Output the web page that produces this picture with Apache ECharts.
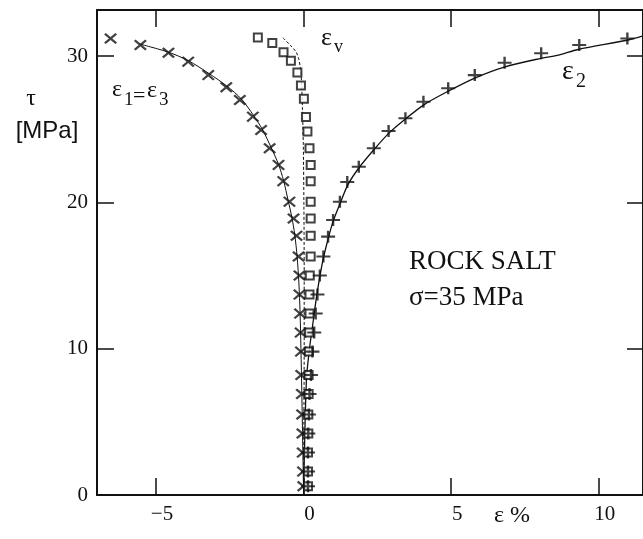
<!DOCTYPE html>
<html>
<head>
<meta charset="utf-8">
<script src="https://cdn.jsdelivr.net/npm/echarts@6/dist/echarts.min.js"></script>
<style>
html,body{margin:0;padding:0;background:#fff;}
#chart{width:643px;height:539px;}
</style>
</head>
<body>
<div id="chart"></div>
<script>
// ---- data ----
const xTickValues = [-5, 0, 5, 10];
const yTickValues = [0, 10, 20, 30];

// ε1 = ε3 (× markers): [strain %, τ MPa]
const eps13Points = [
  [-6.54,31.2],[-5.53,30.76],[-4.58,30.23],[-3.91,29.62],[-3.23,28.7],[-2.62,27.87],
  [-2.16,27.0],[-1.72,25.86],[-1.44,24.95],[-1.15,23.7],[-0.85,22.56],[-0.69,21.45],
  [-0.48,20.05],[-0.34,18.9],[-0.24,17.72],[-0.17,16.3],[-0.14,15.0],[-0.14,13.7],
  [-0.12,12.4],[-0.1,11.1],[-0.09,9.8],[-0.08,8.2],[-0.06,6.9],[-0.05,5.5],
  [-0.04,4.2],[-0.03,2.9],[-0.02,1.6],[-0.01,0.6]
];
// εv (□ markers)
const epsVPoints = [
  [-1.55,31.27],[-1.06,30.9],[-0.68,30.27],[-0.43,29.68],[-0.21,28.88],[-0.09,27.99],
  [0.01,27.08],[0.08,25.84],[0.13,24.84],[0.2,23.7],[0.24,22.56],[0.24,21.45],
  [0.24,20.05],[0.24,18.9],[0.24,17.72],[0.24,16.3],[0.21,15.0],[0.2,13.7],
  [0.2,12.4],[0.19,11.1],[0.18,9.8],[0.17,8.2],[0.17,6.9],[0.16,5.5],
  [0.16,4.2],[0.15,2.9],[0.15,1.6],[0.15,0.6]
];
// ε2 (+ markers)
const eps2Points = [
  [10.97,31.2],[9.34,30.76],[8.05,30.19],[6.81,29.55],[5.8,28.7],[4.9,27.8],
  [4.06,26.88],[3.45,25.75],[2.88,24.88],[2.38,23.7],[1.87,22.44],[1.48,21.4],
  [1.23,20.05],[1.0,18.8],[0.83,17.66],[0.67,16.3],[0.55,15.0],[0.47,13.7],
  [0.41,12.4],[0.36,11.1],[0.3,9.8],[0.25,8.2],[0.2,6.9],[0.18,5.5],
  [0.16,4.2],[0.15,2.9],[0.15,1.6],[0.15,0.6]
];
// fitted curves
const eps13Curve = [
  [-5.55,30.82],[-4.6,30.28],[-3.9,29.68],[-3.2,28.8],[-2.6,27.95],[-2.1,27.05],
  [-1.7,25.95],[-1.4,25.0],[-1.1,23.75],[-0.85,22.6],[-0.68,21.5],[-0.52,20.1],
  [-0.4,19.0],[-0.3,17.8],[-0.22,16.3],[-0.16,14.5],[-0.12,12.5],[-0.09,10],
  [-0.06,7],[-0.03,3.5],[0,0]
];
const epsVCurve = [
  [-0.7,31.25],[-0.43,30.7],[-0.26,30.3],[-0.17,29.85],[-0.11,29.2],[-0.07,28.25],
  [-0.04,26.5],[-0.01,24],[0.01,20],[0.02,15],[0.02,10],[0.01,5],[0,0]
];
const eps2Curve = [
  [0,0],[0.04,4],[0.1,8],[0.2,10],[0.3,11.5],[0.45,13.7],[0.65,16.0],[0.83,17.5],
  [1.0,18.7],[1.23,19.9],[1.5,21.2],[1.87,22.35],[2.38,23.6],[2.9,24.75],[3.45,25.7],
  [4.1,26.7],[4.9,27.6],[5.8,28.5],[6.8,29.25],[8.05,29.85],[8.64,30.07],[9.3,30.45],
  [11.0,31.1],[11.5,31.38]
];

const INK = '#111';
const SERIF = '"Liberation Serif","DejaVu Serif",serif';
const SANS = '"Liberation Sans",Arial,sans-serif';

const X_SYMBOL = 'path://M0,1.3L1.3,0L5,3.7L8.7,0L10,1.3L6.3,5L10,8.7L8.7,10L5,6.3L1.3,10L0,8.7L3.7,5Z';
const PLUS_SYMBOL = 'path://M4.15,0H5.85V4.15H10V5.85H5.85V10H4.15V5.85H0V4.15H4.15Z';

const chart = echarts.init(document.getElementById('chart'), null, {renderer: 'canvas'});

function minusFmt(v){ return v < 0 ? '\u2212' + Math.abs(v) : String(v); }

const commonX = {type:'value', min:-7, max:11.5, splitLine:{show:false},
  axisLine:{show:true, onZero:false, lineStyle:{color:INK, width:2}}};
const commonY = {type:'value', min:0, max:33.15, interval:10, splitLine:{show:false},
  axisLine:{show:true, onZero:false, lineStyle:{color:INK, width:2}}};

const text = (t, x, y, font, align) => ({type:'text', x:x, y:y, z:100,
  style:{text:t, font:font, fill:INK, align:align || 'left', verticalAlign:'middle'}});

chart.setOption({
  animation:false,
  backgroundColor:'#fff',
  grid:{left:97, right:-6, top:10, bottom:44, containLabel:false},
  xAxis:[
    Object.assign({}, commonX, {position:'bottom',
      axisTick:{show:true, inside:true, length:17, customValues:xTickValues, lineStyle:{color:INK, width:1.5}},
      axisLabel:{show:true, customValues:xTickValues, formatter:minusFmt, color:INK,
        fontFamily:SERIF, fontSize:21, margin:9, padding:[0,0,0,12]}}),
    Object.assign({}, commonX, {position:'top',
      axisTick:{show:true, inside:true, length:17, customValues:xTickValues, lineStyle:{color:INK, width:1.5}},
      axisLabel:{show:false}})
  ],
  yAxis:[
    Object.assign({}, commonY, {position:'left',
      axisTick:{show:true, inside:true, length:17, customValues:yTickValues.slice(1), lineStyle:{color:INK, width:1.5}},
      axisLabel:{show:true, customValues:yTickValues, color:INK, fontFamily:SERIF, fontSize:21, margin:9}}),
    Object.assign({}, commonY, {position:'right',
      axisTick:{show:true, inside:true, length:16, customValues:yTickValues.slice(1), lineStyle:{color:INK, width:1.5}},
      axisLabel:{show:false}})
  ],
  series:[
    {type:'line', data:eps13Curve, showSymbol:false, smooth:0.3, z:2,
      lineStyle:{color:INK, width:1}},
    {type:'line', data:epsVCurve, showSymbol:false, smooth:0.3, z:2,
      lineStyle:{color:INK, width:1, type:[3,2]}},
    {type:'line', data:eps2Curve, showSymbol:false, smooth:0.3, z:2,
      lineStyle:{color:INK, width:1.3}},
    {type:'scatter', data:eps13Points, symbol:X_SYMBOL, symbolSize:[13,11], z:5,
      itemStyle:{color:INK}},
    {type:'scatter', data:epsVPoints, symbol:'rect', symbolSize:8, z:5,
      itemStyle:{color:'#fff', borderColor:INK, borderWidth:2}},
    {type:'scatter', data:eps2Points, symbol:PLUS_SYMBOL, symbolSize:[14,12], z:5,
      itemStyle:{color:INK}}
  ],
  graphic:[
    text('\u03c4', 31, 99, '24px ' + SERIF, 'center'),
    text('[MPa]', 47, 131, '24px ' + SANS, 'center'),
    // ε1=ε3
    text('\u03b5', 112, 90, '24px ' + SERIF),
    text('1', 124, 100, '19px ' + SERIF),
    text('=', 133, 96, '22px ' + SERIF),
    text('\u03b5', 147, 91, '24px ' + SERIF),
    text('3', 159, 100, '19px ' + SERIF),
    // εv
    text('\u03b5', 321, 38, '26px ' + SERIF),
    text('v', 334, 47, '18px ' + SERIF),
    // ε2
    text('\u03b5', 562, 72, '28px ' + SERIF),
    text('2', 576, 82, '20px ' + SERIF),
    // annotation
    text('ROCK SALT', 409, 262, '27px ' + SERIF),
    text('\u03c3=35 MPa', 409, 298, '27px ' + SERIF),
    // x axis title
    text('\u03b5 %', 494, 516, '24px ' + SERIF)
  ]
});
</script>
</body>
</html>
